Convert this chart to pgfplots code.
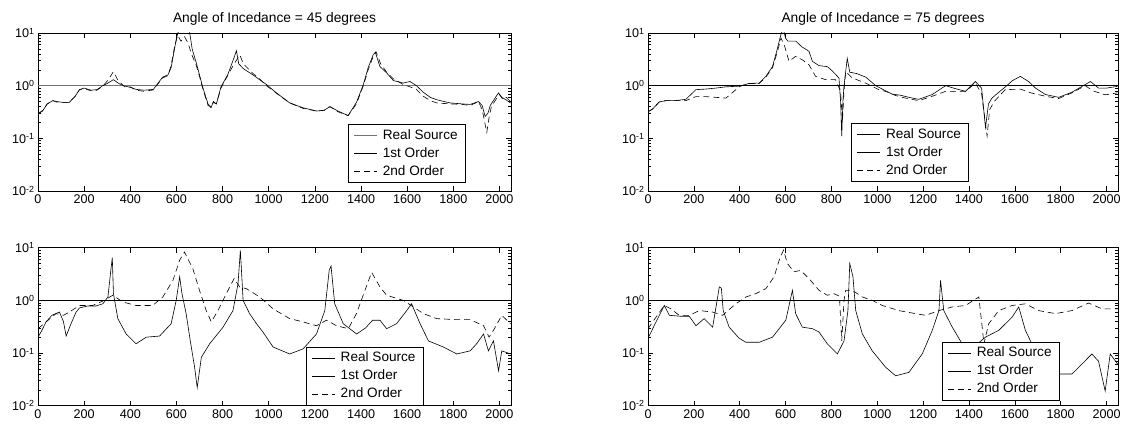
\documentclass[border=0pt]{standalone}
\usepackage{pgfplots}
\pgfplotsset{compat=1.18}
\usepackage{fontspec}
\setmainfont{Liberation Sans}
\newfontfamily\titlefont[Scale=1.38]{Liberation Sans}
\newfontfamily\legendfont[Scale=1.36]{Liberation Sans}
\newfontfamily\tickfont[Scale=1.26]{Liberation Sans}

\tikzset{
  realsrc/.style={black, line width=0.6pt},
  first/.style={black, line width=0.6pt},
  second/.style={black, line width=0.6pt, dash pattern=on 6pt off 4pt},
}
% fonts and legend look, set once for all panels
\pgfplotsset{
  title style={font=\titlefont, inner sep=0pt, yshift=1pt},
  tick label style={font=\tickfont},
  legend style={font=\legendfont, anchor=south west,
    draw=black, line width=0.8pt, inner xsep=5.5pt, inner ysep=2pt,
    column sep=3pt,
    nodes={inner sep=2.5pt, text height=10pt, text depth=3pt}},
  legend cell align=left,
  legend image code/.code={\draw[#1] (0pt,0pt) -- (23pt,0pt);},
}
% common axis settings of the four panels
\pgfplotsset{
  every axis/.append style={
    scale only axis, height=158pt,
    xmin=0, xmax=2050, ymin=0.01, ymax=10,
    xtick={0,200,400,600,800,1000,1200,1400,1600,1800,2000},
    xticklabels={0,200,400,600,800,1000,1200,1400,1600,1800,2000},
    ytick={0.01,0.1,1,10},
    yticklabels={10\textsuperscript{-2},10\textsuperscript{-1},10\textsuperscript{0},10\textsuperscript{1}},
    minor ytick={0.02,0.03,0.04,0.05,0.06,0.07,0.08,0.09,0.2,0.3,0.4,0.5,0.6,0.7,0.8,0.9,2,3,4,5,6,7,8,9},
    tick align=inside, major tick length=5pt, minor tick length=3pt,
    tick style={black, line width=0.5pt},
    axis line style={line width=0.8pt},
  },
}

\begin{document}
\begin{tikzpicture}
\path[use as bounding box] (0,0) rectangle (1124pt,425pt);

% ---------------- 45 degrees, top ----------------
\begin{semilogyaxis}[width=473pt, at={(38pt,234pt)}, anchor=south west,
  title={Angle of Incedance = 45 degrees},
  legend style={at={(0.655,0.051)}}]
\addplot[realsrc, black!55] coordinates {(0,1) (2050,1)};
\addlegendentry{Real Source}
\addplot[first] coordinates {
(0,0.29) (20,0.33) (40,0.45) (64,0.52) (80,0.50) (110,0.48) (135,0.48) (160,0.62) (180,0.84) (200,0.90) (230,0.82) (255,0.84) (281,1.0) (300,1.1) (327,1.3) (350,1.1) (375,0.98) (400,0.93) (425,0.85) (460,0.82) (500,0.85) (512,1.0) (540,1.45) (563,1.6) (577,2.2) (590,4.5) (600,8) (612,12) (655,12) (668,5) (685,2.8) (700,1.6) (715,0.9) (737,0.45) (750,0.38) (760,0.5) (773,0.45) (793,0.95) (822,1.6) (845,3.0) (860,4.6) (870,2.6) (890,2.1) (932,1.6) (960,1.3) (990,1.05) (1033,0.73) (1091,0.47) (1149,0.38) (1207,0.33) (1240,0.34) (1265,0.40) (1300,0.33) (1344,0.27) (1380,0.48) (1410,1.05) (1431,2.2) (1453,3.9) (1462,4.3) (1482,2.3) (1511,1.75) (1540,1.25) (1583,1.12) (1612,1.2) (1640,1.0) (1670,0.75) (1700,0.6) (1728,0.54) (1786,0.47) (1840,0.45) (1873,0.44) (1909,0.5) (1925,0.42) (1938,0.26) (1950,0.3) (1960,0.42) (1985,0.62) (1996,0.73) (2010,0.6) (2025,0.55) (2048,0.47)};
\addlegendentry{1st Order}
\addplot[second] coordinates {
(0,0.29) (20,0.34) (40,0.45) (64,0.52) (80,0.49) (110,0.48) (135,0.48) (160,0.62) (180,0.84) (200,0.88) (230,0.80) (255,0.82) (281,0.98) (305,1.3) (327,1.85) (345,1.3) (375,0.95) (400,0.95) (425,0.82) (460,0.78) (500,0.83) (512,0.98) (540,1.4) (563,1.55) (577,2.4) (590,5) (605,9) (620,7) (635,8.5) (650,6.5) (665,4) (685,2.5) (700,1.5) (715,0.85) (737,0.42) (750,0.40) (760,0.48) (773,0.45) (793,0.9) (822,1.55) (850,2.6) (875,3.8) (890,2.6) (932,1.7) (960,1.35) (990,1.0) (1033,0.72) (1091,0.47) (1149,0.37) (1207,0.33) (1240,0.34) (1265,0.40) (1300,0.32) (1344,0.27) (1380,0.45) (1410,1.0) (1431,2.0) (1453,3.6) (1465,4.4) (1485,2.6) (1511,1.8) (1540,1.35) (1583,1.05) (1612,0.95) (1640,0.85) (1670,0.63) (1700,0.52) (1728,0.47) (1786,0.45) (1840,0.44) (1873,0.42) (1909,0.5) (1925,0.35) (1945,0.13) (1955,0.25) (1965,0.4) (1985,0.55) (2000,0.68) (2015,0.55) (2030,0.6) (2048,0.5)};
\addlegendentry{2nd Order}
\end{semilogyaxis}

% ---------------- 75 degrees, top ----------------
\begin{semilogyaxis}[width=470pt, at={(648pt,234pt)}, anchor=south west,
  title={Angle of Incedance = 75 degrees},
  legend style={at={(0.432,0.057)}}]
\addplot[realsrc] coordinates {(0,1) (2050,1)};
\addlegendentry{Real Source}
\addplot[first] coordinates {
(0,0.32) (20,0.36) (49,0.49) (78,0.52) (120,0.52) (165,0.55) (209,0.84) (250,0.86) (296,0.9) (340,0.95) (400,0.98) (440,1.1) (485,1.12) (514,1.5) (543,2.3) (563,4.8) (580,9.5) (590,12) (600,8) (610,7) (645,7) (670,5.5) (702,4.5) (717,2.9) (746,2.4) (782,2.3) (804,1.9) (833,1.4) (840,0.5) (845,0.11) (850,0.5) (855,1.0) (869,3.3) (880,1.8) (910,1.7) (950,1.45) (993,1.0) (1036,0.8) (1065,0.69) (1100,0.66) (1138,0.6) (1181,0.55) (1240,0.68) (1298,1.0) (1340,0.88) (1385,0.78) (1428,1.2) (1455,0.9) (1472,0.16) (1485,0.45) (1500,0.58) (1530,0.75) (1559,0.95) (1590,1.25) (1624,1.5) (1660,1.2) (1690,0.9) (1733,0.68) (1791,0.6) (1849,0.75) (1907,1.05) (1930,1.2) (1965,0.9) (2000,0.9) (2048,0.97)};
\addlegendentry{1st Order}
\addplot[second] coordinates {
(0,0.32) (20,0.36) (49,0.49) (78,0.52) (120,0.52) (165,0.52) (209,0.62) (250,0.62) (296,0.6) (340,0.58) (370,0.75) (400,0.97) (440,1.1) (485,1.1) (514,1.45) (543,2.2) (563,4.2) (580,8) (594,6) (615,2.9) (644,3.6) (673,3.1) (702,2.5) (731,1.5) (775,1.3) (818,1.3) (840,0.78) (848,0.21) (855,0.8) (862,1.85) (891,1.4) (949,1.12) (1007,0.84) (1036,0.78) (1080,0.65) (1123,0.58) (1181,0.52) (1240,0.63) (1298,0.78) (1385,0.78) (1428,1.12) (1455,0.7) (1479,0.11) (1490,0.35) (1510,0.5) (1559,0.85) (1600,0.84) (1624,0.86) (1670,0.73) (1733,0.63) (1791,0.57) (1849,0.73) (1907,1.0) (1940,0.8) (1994,0.67) (2048,0.73)};
\addlegendentry{2nd Order}
\end{semilogyaxis}

% ---------------- 45 degrees, bottom ----------------
\begin{semilogyaxis}[width=473pt, at={(38pt,19.3pt)}, anchor=south west,
  legend style={at={(0.566,0.0)}}]
\addplot[realsrc] coordinates {(0,1) (2050,1)};
\addlegendentry{Real Source}
\addplot[first] coordinates {
(0,0.2) (15,0.26) (35,0.39) (60,0.52) (93,0.6) (110,0.4) (122,0.21) (143,0.36) (165,0.6) (180,0.72) (215,0.78) (250,0.78) (281,0.86) (303,1.16) (315,3.5) (322,6.5) (327,1.34) (346,0.45) (382,0.23) (425,0.15) (469,0.2) (527,0.21) (577,0.36) (599,1.0) (614,2.8) (624,1.34) (642,0.56) (660,0.17) (679,0.053) (690,0.022) (708,0.083) (744,0.15) (802,0.31) (845,0.64) (867,2.08) (877,8.9) (889,1.0) (917,0.56) (947,0.36) (975,0.25) (1019,0.13) (1091,0.096) (1149,0.12) (1207,0.23) (1243,0.64) (1262,3.7) (1270,4.5) (1286,0.86) (1323,0.36) (1381,0.23) (1420,0.3) (1450,0.42) (1482,0.42) (1511,0.29) (1554,0.36) (1598,0.64) (1619,0.86) (1656,0.36) (1692,0.17) (1757,0.13) (1815,0.096) (1873,0.11) (1901,0.15) (1931,0.23) (1952,0.11) (1974,0.17) (1996,0.046) (2010,0.11) (2048,0.096)};
\addlegendentry{1st Order}
\addplot[second] coordinates {
(0,0.29) (35,0.39) (78,0.56) (110,0.52) (136,0.6) (180,0.8) (237,0.8) (281,0.97) (324,1.25) (368,0.93) (425,0.8) (497,0.8) (541,1.16) (585,2.4) (614,5.8) (635,8.3) (671,4.0) (700,1.55) (729,0.64) (751,0.39) (780,0.64) (816,1.34) (850,2.6) (874,1.8) (903,1.67) (961,1.16) (1019,0.69) (1091,0.45) (1149,0.39) (1207,0.33) (1250,0.42) (1294,0.33) (1345,0.29) (1380,0.56) (1417,1.55) (1446,3.4) (1482,1.8) (1511,1.25) (1583,1.0) (1627,0.75) (1670,0.56) (1728,0.45) (1815,0.43) (1873,0.43) (1931,0.33) (1955,0.2) (1974,0.27) (2010,0.52) (2048,0.36)};
\addlegendentry{2nd Order}
\end{semilogyaxis}

% ---------------- 75 degrees, bottom ----------------
\begin{semilogyaxis}[width=470pt, at={(648pt,19.3pt)}, anchor=south west,
  legend style={at={(0.625,0.032)}}]
\addplot[realsrc] coordinates {(0,1) (2050,1)};
\addlegendentry{Real Source}
\addplot[first] coordinates {
(0,0.19) (35,0.39) (71,0.8) (93,0.52) (140,0.5) (180,0.5) (209,0.33) (245,0.45) (282,0.31) (311,1.8) (320,1.7) (328,0.64) (354,0.31) (398,0.19) (427,0.16) (485,0.16) (543,0.2) (601,0.42) (630,1.55) (644,0.56) (673,0.31) (717,0.29) (746,0.25) (782,0.15) (826,0.096) (855,0.17) (872,0.64) (880,5) (894,2.8) (906,0.64) (935,0.23) (978,0.11) (1036,0.054) (1080,0.037) (1138,0.043) (1196,0.096) (1240,0.27) (1269,0.64) (1276,2.4) (1290,0.64) (1327,0.31) (1370,0.15) (1420,0.13) (1472,0.2) (1530,0.27) (1588,0.48) (1617,0.75) (1646,0.27) (1704,0.08) (1791,0.04) (1849,0.04) (1893,0.062) (1936,0.096) (1965,0.07) (1994,0.019) (2016,0.096) (2048,0.062)};
\addlegendentry{1st Order}
\addplot[second] coordinates {
(0,0.29) (35,0.48) (71,0.8) (100,0.69) (136,0.52) (180,0.52) (224,0.64) (282,0.6) (325,0.52) (383,0.86) (427,1.16) (470,1.34) (514,1.67) (550,2.8) (572,5.8) (591,9) (608,5.0) (637,3.5) (666,3.7) (702,2.6) (746,1.55) (782,1.25) (811,1.34) (835,1.2) (845,0.17) (855,1.0) (862,1.55) (891,1.55) (935,1.16) (978,1.0) (1022,0.8) (1094,0.64) (1167,0.56) (1211,0.52) (1269,0.64) (1327,0.75) (1385,0.8) (1443,1.16) (1458,0.3) (1465,0.15) (1486,0.36) (1530,0.64) (1588,0.8) (1646,0.86) (1704,0.64) (1777,0.56) (1849,0.64) (1922,0.89) (1980,0.69) (2048,0.69)};
\addlegendentry{2nd Order}
\end{semilogyaxis}
\end{tikzpicture}
\end{document}
